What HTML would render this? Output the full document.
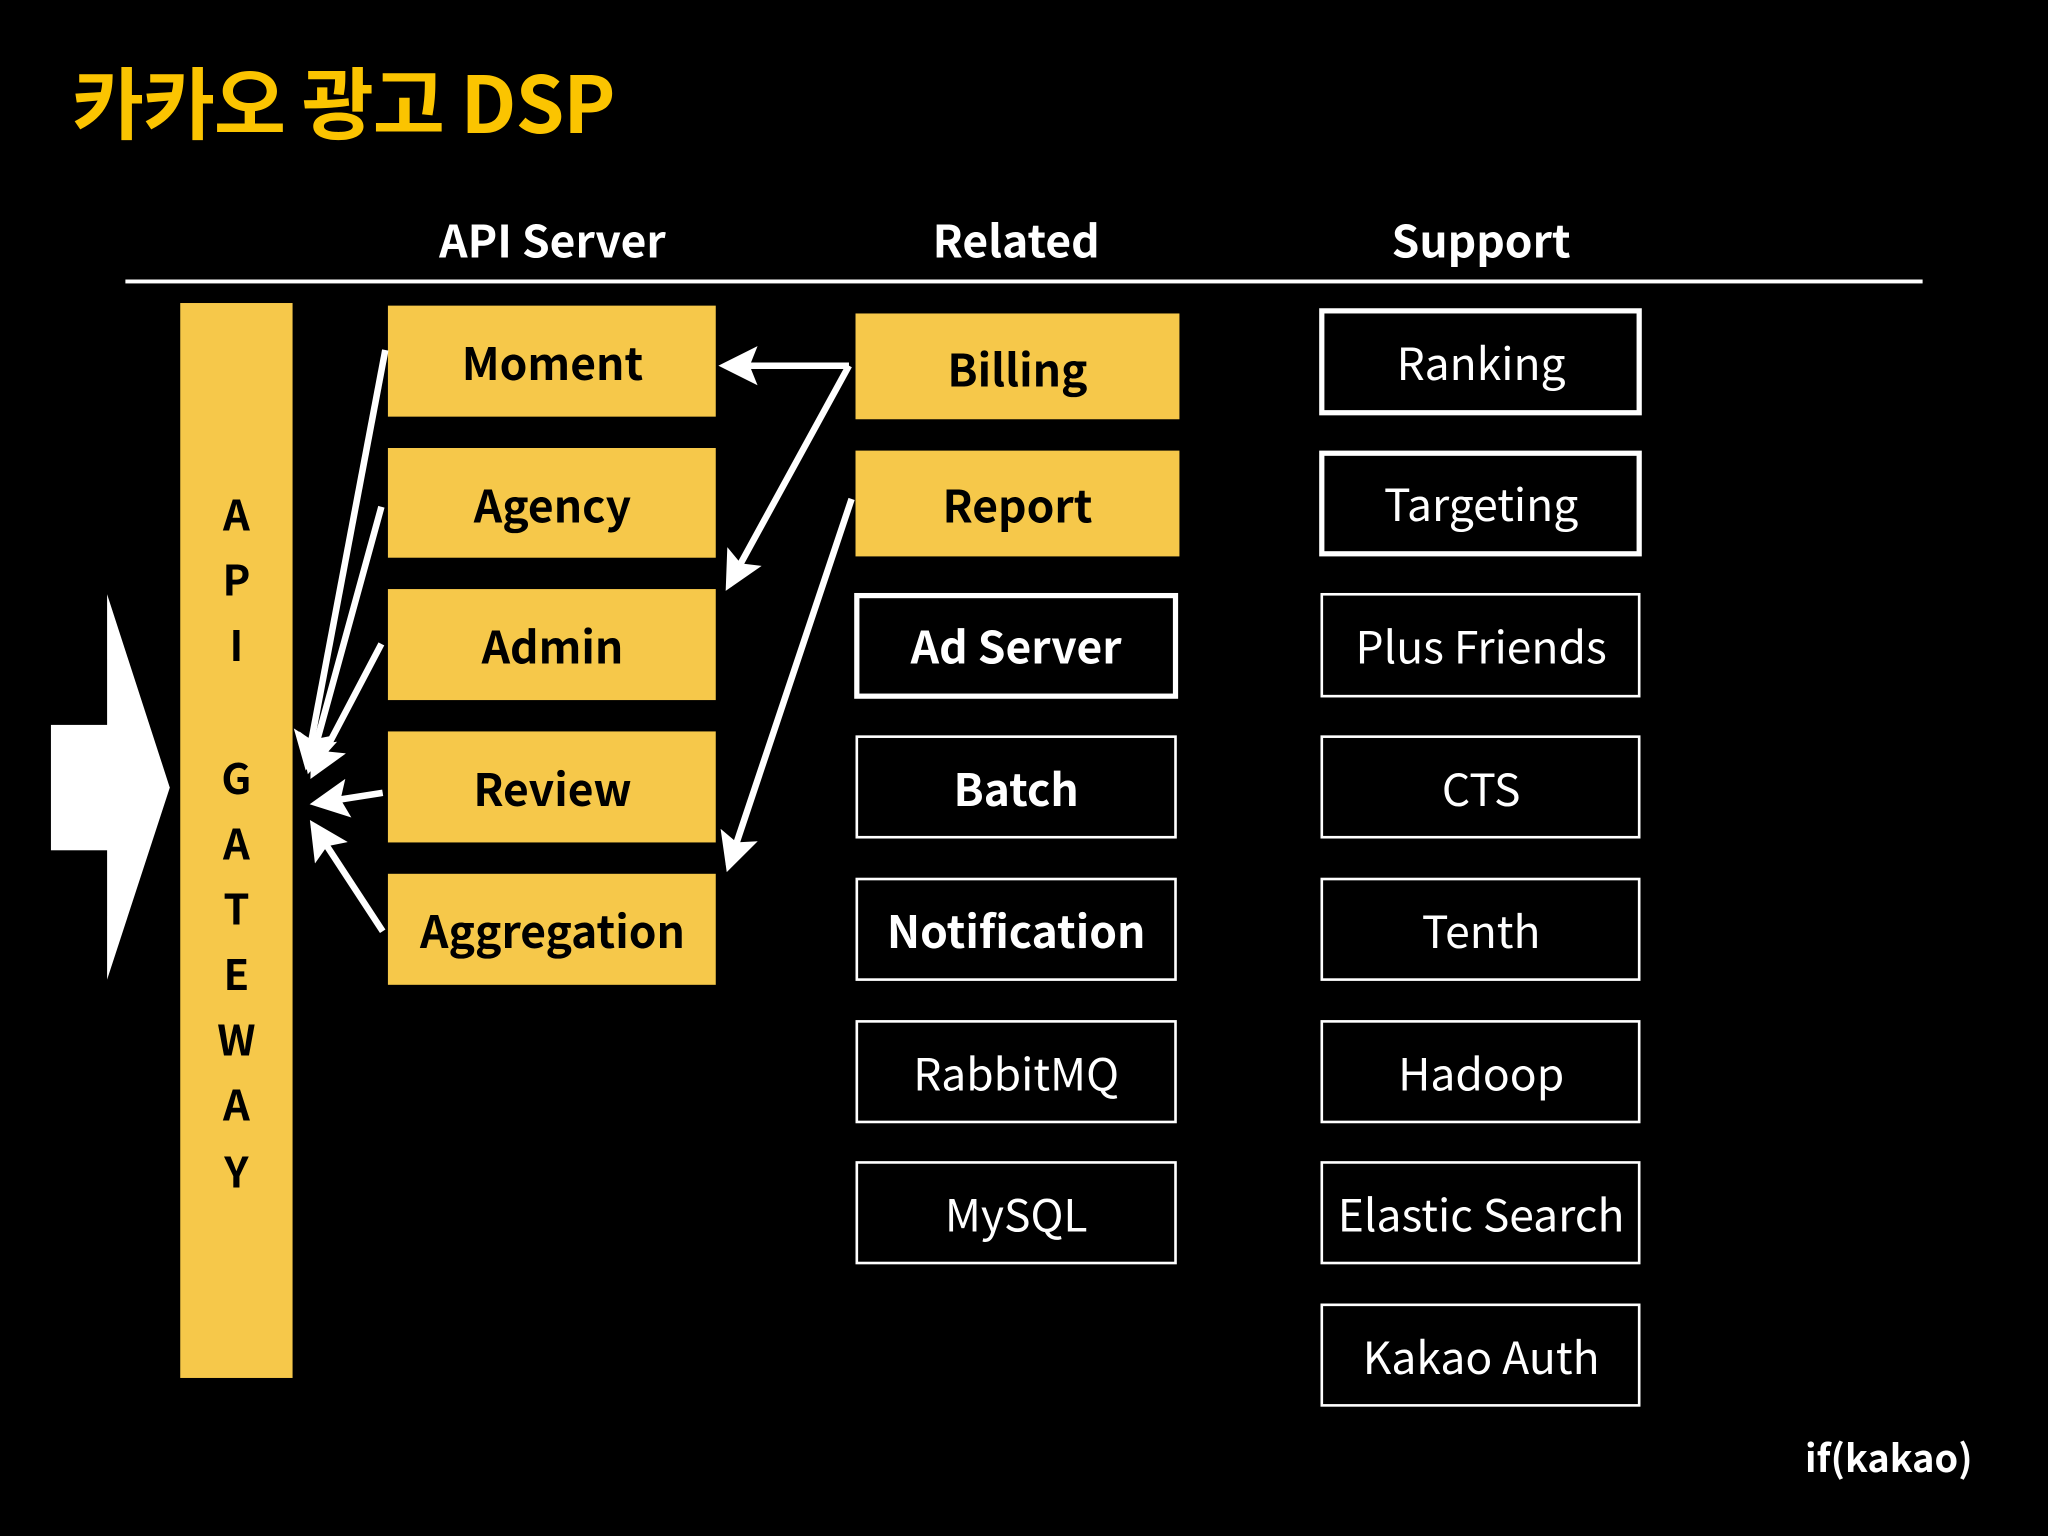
<!DOCTYPE html>
<html><head><meta charset="utf-8"><style>
html,body{margin:0;padding:0;background:#000;}
svg{display:block;}
text{font-family:"Noto Sans CJK KR","Liberation Sans",sans-serif;}
</style></head><body>
<svg width="2048" height="1536" viewBox="0 0 1568 1176" xmlns="http://www.w3.org/2000/svg">
<defs>
<marker id="ah" markerWidth="6" markerHeight="6" refX="5" refY="3" orient="auto" markerUnits="strokeWidth">
<path d="M0,0 L6,3 L0,6 L1.2,3 Z" fill="#fff"/>
</marker>
</defs>
<rect width="1568" height="1176" fill="#000"/>
<text x="55" y="102" font-size="60" font-weight="bold" fill="#fbc400" letter-spacing="-0.8">카카오 광고 DSP</text>
<g font-size="34" font-weight="bold" fill="#fff" text-anchor="middle">
<text x="423" y="197">API Server</text>
<text x="778" y="197">Related</text>
<text x="1134" y="197">Support</text>
</g>
<rect x="96" y="214" width="1376" height="3" fill="#fff"/>
<rect x="39" y="555" width="44" height="96" fill="#fff"/>
<polygon points="82,455 130,603 82,750" fill="#fff"/>
<rect x="138" y="232" width="86" height="823" fill="#f6c84a"/>
<g font-size="32" font-weight="bold" fill="#000" text-anchor="middle">
<text x="181" y="406">A</text><text x="181" y="456">P</text><text x="181" y="506">I</text>
<text x="181" y="608">G</text><text x="181" y="658">A</text><text x="181" y="708">T</text>
<text x="181" y="758">E</text><text x="181" y="808">W</text><text x="181" y="858">A</text><text x="181" y="909">Y</text>
</g>
<g fill="#f6c84a">
<rect x="297" y="234" width="251" height="85"/>
<rect x="297" y="343" width="251" height="84"/>
<rect x="297" y="451" width="251" height="85"/>
<rect x="297" y="560" width="251" height="85"/>
<rect x="297" y="669" width="251" height="85"/>
<rect x="655" y="240" width="248" height="81"/>
<rect x="655" y="345" width="248" height="81"/>
</g>
<g font-size="34" font-weight="bold" fill="#000" text-anchor="middle">
<text x="423" y="291">Moment</text>
<text x="423" y="400">Agency</text>
<text x="423" y="508">Admin</text>
<text x="423" y="617">Review</text>
<text x="423" y="726">Aggregation</text>
<text x="779" y="296">Billing</text>
<text x="779" y="400">Report</text>
</g>
<g fill="none" stroke="#fff">
<rect x="656" y="456" width="244" height="77" stroke-width="4"/>
<rect x="656" y="564" width="244" height="77" stroke-width="2"/>
<rect x="656" y="673" width="244" height="77" stroke-width="2"/>
<rect x="656" y="782" width="244" height="77" stroke-width="2"/>
<rect x="656" y="890" width="244" height="77" stroke-width="2"/>
<rect x="1012" y="238" width="243" height="78" stroke-width="4"/>
<rect x="1012" y="347" width="243" height="77" stroke-width="4"/>
<rect x="1012" y="455" width="243" height="78" stroke-width="2"/>
<rect x="1012" y="564" width="243" height="77" stroke-width="2"/>
<rect x="1012" y="673" width="243" height="77" stroke-width="2"/>
<rect x="1012" y="782" width="243" height="77" stroke-width="2"/>
<rect x="1012" y="890" width="243" height="77" stroke-width="2"/>
<rect x="1012" y="999" width="243" height="77" stroke-width="2"/>
</g>
<g font-size="34" font-weight="bold" fill="#fff" text-anchor="middle">
<text x="778" y="508">Ad Server</text>
<text x="778" y="617">Batch</text>
<text x="778" y="726">Notification</text>
</g>
<g font-size="34" fill="#fff" text-anchor="middle">
<text x="778" y="835">RabbitMQ</text>
<text x="778" y="943">MySQL</text>
<text x="1134" y="291">Ranking</text>
<text x="1134" y="399">Targeting</text>
<text x="1134" y="508">Plus Friends</text>
<text x="1134" y="617">CTS</text>
<text x="1134" y="726">Tenth</text>
<text x="1134" y="835">Hadoop</text>
<text x="1134" y="943">Elastic Search</text>
<text x="1134" y="1052">Kakao Auth</text>
</g>
<g stroke="#fff" stroke-width="5" fill="none" marker-end="url(#ah)">
<line x1="295" y1="268" x2="235" y2="585"/>
<line x1="292" y1="388" x2="237" y2="588"/>
<line x1="292" y1="493" x2="240" y2="592"/>
<line x1="293" y1="607" x2="242" y2="615"/>
<line x1="293" y1="713" x2="240" y2="632"/>
<polyline points="650,280 555,280" />
<polyline points="650,280 558,448"/>
<line x1="652" y1="382" x2="558" y2="663"/>
</g>
<text x="1382" y="1127" font-size="29" font-weight="bold" fill="#fff">if(kakao)</text>
</svg>
</body></html>
